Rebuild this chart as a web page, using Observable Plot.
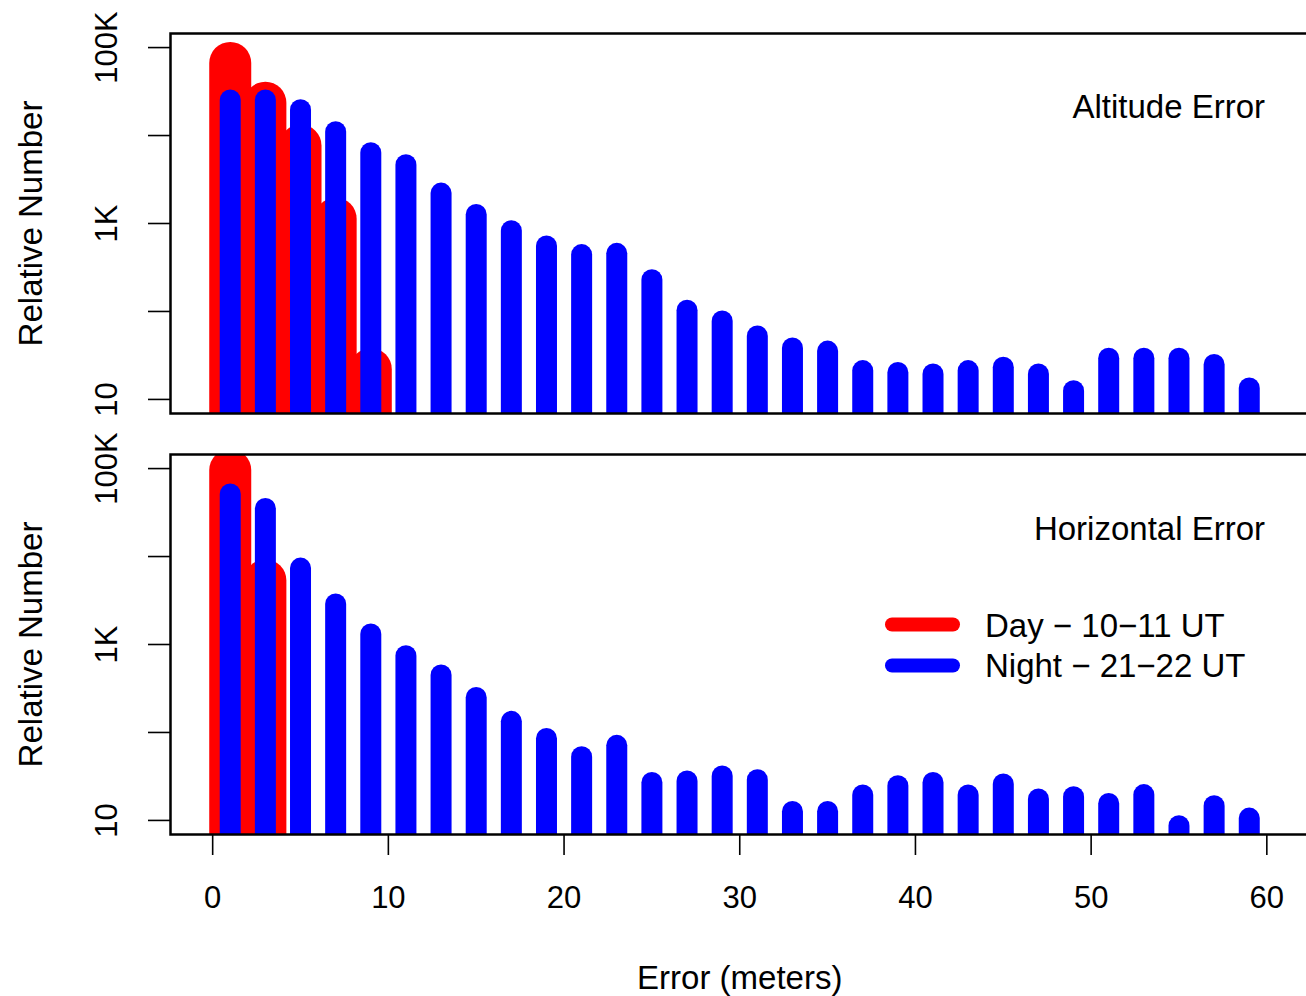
<!DOCTYPE html>
<html><head><meta charset="utf-8">
<script src="https://cdn.jsdelivr.net/npm/d3@7"></script>
<script src="https://cdn.jsdelivr.net/npm/@observablehq/plot@0.6"></script>
<style>
html,body{margin:0;padding:0;background:#fff;overflow:hidden;width:1306px;height:996px;}
#chart{position:relative;width:1310px;}
#chart svg{display:block;}
</style></head><body><div id="chart"></div>
<script>
// Error bins (meters) — bar centres
const errorBins = [1,3,5,7,9,11,13,15,17,19,21,23,25,27,29,31,33,35,37,39,41,43,45,47,49,51,53,55,57,59];

// Altitude error
const altDayBins = [1,3,5,7,9];
const altDay = [66000, 23300, 7600, 1120, 21.8];
const altNight = [25000, 25000, 19400, 10900, 6300, 4600, 2190, 1250, 818, 548,
                  437, 452, 227, 102, 77, 52, 38, 35, 21, 20,
                  19.2, 21, 22.9, 19.2, 12.4, 29, 29, 29, 24.6, 13.3];

// Horizontal error
const horDayBins = [1,3];
const horDay = [95000, 5300];
const horNight = [50700, 34800, 7300, 2850, 1300, 736, 445, 247, 132, 84.5,
                  52.4, 70.5, 26.7, 27.7, 31.6, 28.7, 12.5, 12.5, 19.2, 24.5,
                  26.7, 19.2, 25.6, 17.3, 18.4, 15.4, 19.4, 8.6, 14.5, 10.5];

// Axis ticks
const yTicks = [10, 100, 1000, 10000, 100000];
const yTickLabels = {10: "10", 1000: "1K", 100000: "100K"};
const xTicks = [0, 10, 20, 30, 40, 50, 60];

const panelTitles = ["Altitude Error", "Horizontal Error"];
const seriesNames = ["Day \u2212 10\u221211 UT", "Night \u2212 21\u221222 UT"];
const RED = "#ff0000", BLUE = "#0000ff";
const FONT = "'Liberation Sans', Arial, Helvetica, sans-serif";

const toRows = (bins, vals) => bins.map((x, i) => ({x, v: vals[i]}));

function panel({day, night, title, height, marginTop, marginBottom, titleDy, showX}) {
  return Plot.plot({
    width: 1310, height, marginTop, marginBottom, marginLeft: 170, marginRight: 1.5,
    style: {fontFamily: FONT, background: "transparent", color: "black"},
    x: {domain: [-2.4, 62.4], axis: null},
    y: {type: "log", domain: [10 ** 0.84, 10 ** 5.16], axis: null},
    marks: [
      Plot.ruleX(day, {x: "x", y1: () => 1, y2: "v", stroke: RED, strokeWidth: 42, strokeLinecap: "round", clip: true}),
      Plot.ruleX(night, {x: "x", y1: () => 1, y2: "v", stroke: BLUE, strokeWidth: 21, strokeLinecap: "round", clip: true}),
      Plot.frame({stroke: "black", strokeWidth: 2.5}),
      Plot.axisY(yTicks, {tickSize: 22, tickFormat: () => "", label: null, strokeWidth: 1.6}),
      Plot.text(yTicks.filter(d => yTickLabels[d]), {y: d => d, text: d => yTickLabels[d], frameAnchor: "left", dx: -63, rotate: -90, fontSize: 31, lineAnchor: "middle", textAnchor: "middle", fill: "black"}),
      Plot.text(["Relative Number"], {text: d => d, frameAnchor: "left", dx: -139.5, rotate: -90, fontSize: 33, lineAnchor: "middle", textAnchor: "middle", fill: "black"}),
      Plot.text([title], {text: d => d, frameAnchor: "top-right", dx: -44, dy: titleDy, textAnchor: "end", lineAnchor: "top", fontSize: 33, fill: "black"}),
      showX ? Plot.axisX(xTicks, {tickSize: 21, tickPadding: 30, fontSize: 31, label: null, strokeWidth: 1.6}) : null,
      showX ? Plot.text(["Error (meters)"], {text: d => d, frameAnchor: "bottom", dy: 131, lineAnchor: "top", fontSize: 33, fill: "black"}) : null
    ]
  });
}

const topPanel = panel({
  day: toRows(altDayBins, altDay), night: toRows(errorBins, altNight),
  title: panelTitles[0], height: 433, marginTop: 33, marginBottom: 20, titleDy: 61, showX: false
});
const bottomPanel = panel({
  day: toRows(horDayBins, horDay), night: toRows(errorBins, horNight),
  title: panelTitles[1], height: 563, marginTop: 21, marginBottom: 162, titleDy: 62, showX: true
});

const chart = document.getElementById("chart");
chart.appendChild(topPanel);
chart.appendChild(bottomPanel);

// Legend inside the bottom panel
const lg = d3.select(bottomPanel).append("g")
  .attr("font-family", FONT).attr("font-size", 33).attr("text-anchor", "start");
[RED, BLUE].forEach((c, i) => {
  const cy = 191.5 + i * 41;
  lg.append("line").attr("x1", 892).attr("x2", 953).attr("y1", cy).attr("y2", cy)
    .attr("stroke", c).attr("stroke-width", 14).attr("stroke-linecap", "round");
  lg.append("text").attr("x", 985).attr("y", 203.7 + i * 40).attr("fill", "black")
    .attr("text-anchor", "start").text(seriesNames[i]);
});
</script>
</body></html>
